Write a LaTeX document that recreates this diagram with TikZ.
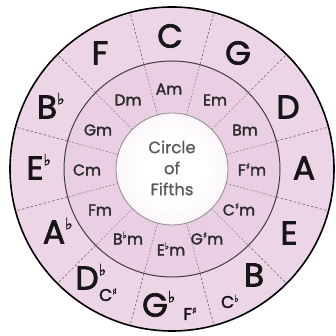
\documentclass[tikz,border=0pt]{standalone}
\usepackage{fontspec}
\usetikzlibrary{calc}
\setmainfont{Poppins}[FakeBold=2.2]
\newfontfamily\titlef{Poppins}[FakeBold=1]
\newfontfamily\symf{DejaVu Sans}[FakeBold=1]
\definecolor{ringIn}{HTML}{EDD5E8}
\definecolor{ringOut}{HTML}{F7EDF5}
\definecolor{midring}{HTML}{EACFE4}
\definecolor{cenEdge}{HTML}{EFDBEB}
\definecolor{txt}{HTML}{161616}
\pgfdeclareradialshading{outershade}{\pgfpoint{0bp}{0bp}}{color(0bp)=(ringIn); color(33bp)=(ringIn); color(50bp)=(ringOut); color(100bp)=(ringOut)}
\pgfdeclareradialshading{midshade}{\pgfpoint{0bp}{0bp}}{color(0bp)=(midring); color(26bp)=(midring); color(50bp)=(ringIn!70!white); color(100bp)=(ringIn!70!white)}
\pgfdeclareradialshading{censhade}{\pgfpoint{0bp}{0bp}}{color(0bp)=(white); color(15bp)=(white); color(50bp)=(cenEdge); color(100bp)=(cenEdge)}
\newcommand\mflat{\rlap{\smash{\raisebox{14pt}{\symf\fontsize{16}{16}\selectfont ♭}}}}
\newcommand\sflat{\smash{\raisebox{6pt}{\symf\fontsize{9.5}{9.5}\selectfont ♭}}}
\newcommand\ssharp{\smash{\raisebox{6pt}{\symf\fontsize{9}{9}\selectfont ♯}}}
\newcommand\tsharp{\smash{\raisebox{6pt}{\symf\fontsize{9.5}{9.5}\selectfont ♯}}}
\newcommand\tflat{\smash{\raisebox{6pt}{\symf\fontsize{10}{10}\selectfont ♭}}}
\begin{document}
\begin{tikzpicture}[x=1pt,y=1pt,
  major/.style={font=\fontsize{33}{33}\selectfont, text=txt, inner sep=0pt},
  minor/.style={font=\fontsize{15.5}{15.5}\selectfont, text=txt!90!white, inner sep=0pt},
  enh/.style={font=\fontsize{17}{17}\selectfont, text=txt, inner sep=0pt},
  outdash/.style={draw=black!60, line width=0.6pt, dash pattern=on 2.5pt off 2pt},
  indash/.style={draw=black!45, line width=0.6pt, dash pattern=on 2pt off 1.5pt}]
\useasboundingbox (0,0) rectangle (335,336);
\coordinate (O) at (172,167);
% fills
\shade[shading=outershade] (O) circle (162);
\shade[shading=midshade] (O) circle (108);
\shade[shading=censhade] (O) circle (56);
% dividers
\foreach \a in {15,45,...,345} {
  \draw[outdash] ($(O)+(\a:108)$) -- ($(O)+(\a:161)$);
  \draw[indash] ($(O)+(\a:56)$) -- ($(O)+(\a:108)$);
}
% circles
\draw[black, line width=1.6pt] (O) circle (162);
\draw[black!75, line width=1pt] (O) circle (108);
\draw[black!45, line width=0.8pt] (O) circle (56);
% major keys
\node[major] (kC) at (170,300) {C};
\node[major] (kG) at (238,283) {G};
\node[major] (kD) at (288,229) {D};
\node[major] (kA) at (304,168) {A};
\node[major] (kE) at (289,103) {E};
\node[major] (kB) at (254,61) {B};
\node[enh] (kCb) at (230,34) {C\tflat};
\node[major] (kGb) at (155,31) {G\mflat};
\node[enh] (kFs) at (190,22) {F\tsharp};
\node[major] (kDb) at (87,58) {D\mflat};
\node[enh] (kCs) at (108,41) {C\tsharp};
\node[major] (kAb) at (54,104) {A\mflat};
\node[major] (kEb) at (35,168) {E\mflat};
\node[major] (kBb) at (47,229) {B\mflat};
\node[major] (kF) at (100,283) {F};
% minor keys
\node[minor] (mA) at (169,247) {Am};
\node[minor] (mE) at (215,236) {Em};
\node[minor] (mB) at (245,206) {Bm};
\node[minor] (mFs) at (252,166) {F\ssharp m};
\node[minor] (mCs) at (239,126) {C\ssharp m};
\node[minor] (mGs) at (207,97) {G\ssharp m};
\node[minor] (mEb) at (171,86) {E\sflat m};
\node[minor] (mBb) at (128,97) {B\sflat m};
\node[minor] (mF) at (100,126) {Fm};
\node[minor] (mC) at (87,166) {Cm};
\node[minor] (mG) at (98,206) {Gm};
\node[minor] (mD) at (128,236) {Dm};
% title
\node[font=\titlef\fontsize{16.5}{21}\selectfont, text=black!65, align=center, inner sep=0pt] (title) at (172,168) {Circle\\of\\Fifths};
\end{tikzpicture}
\end{document}
